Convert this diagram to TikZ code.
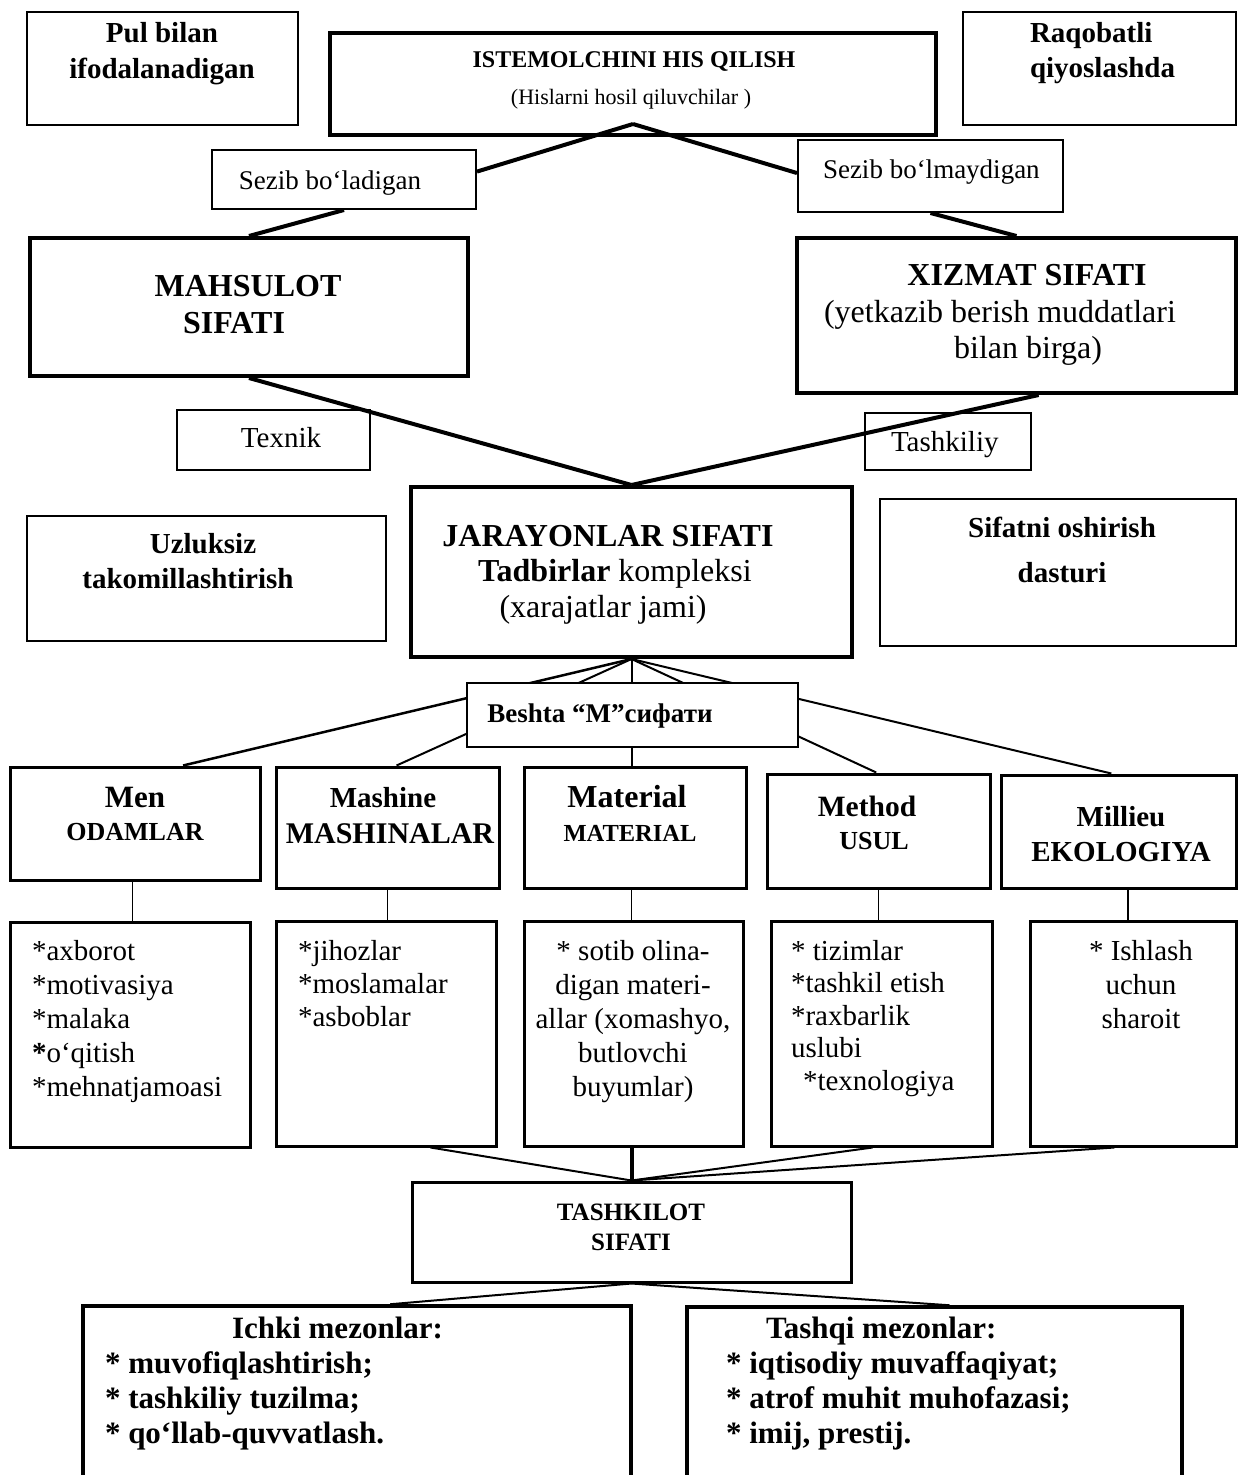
\documentclass[tikz,border=0pt]{standalone}
\usepackage{fontspec}
\setmainfont{Liberation Serif}
\usetikzlibrary{calc}
\newcommand{\fsz}[2]{\fontsize{#1}{#2}\selectfont}
\newcommand{\txtblock}[2]{\begin{tabular}[t]{@{}#1@{}}#2\end{tabular}}
\begin{document}
\begin{tikzpicture}[x=1pt,y=-1pt,
  thinbox/.style={draw, rectangle, line width=2pt, inner sep=0pt},
  thickbox/.style={draw, rectangle, line width=4pt, inner sep=0pt},
  midbox/.style={draw, rectangle, line width=3pt, inner sep=0pt},
  lbl/.style={inner sep=0pt, outer sep=0pt},
  heavy/.style={line width=4pt},
  link/.style={line width=2pt},
  stem/.style={line width=1.8pt}]
\clip (0,0) rectangle (1238,1475);
\fill[white] (0,0) rectangle (1238,1475);

% ---------- top row ----------
\node[thinbox, minimum width=271pt, minimum height=113pt] (pul) at (162.5,68.5) {};
\node[lbl, anchor=base, font=\fsz{29}{36}\bfseries] (pulT) at (162,42)
  {\txtblock{c}{Pul bilan\\ifodalanadigan}};

\node[thickbox, minimum width=606pt, minimum height=102pt] (ist) at (633,84) {};
\node[lbl, anchor=base, font=\fsz{24}{28}\bfseries] (istT) at (634,67) {ISTEMOLCHINI HIS QILISH};
\node[lbl, anchor=base, font=\fsz{22}{26}] (istS) at (631,104) {(Hislarni hosil qiluvchilar )};

\node[thinbox, minimum width=273pt, minimum height=113pt] (raq) at (1099.5,68.5) {};
\node[lbl, anchor=base west, font=\fsz{29}{35}\bfseries] (raqT) at (1030,42)
  {\txtblock{l}{Raqobatli\\qiyoslashda}};

% ---------- perceived / not perceived ----------
\node[thinbox, minimum width=264pt, minimum height=59pt] (sez1) at (344,179.5) {};
\node[lbl, anchor=base, font=\fsz{27}{32}] (sez1T) at (330,189) {Sezib bo‘ladigan};
\node[thinbox, minimum width=265pt, minimum height=72pt] (sez2) at (930.5,176) {};
\node[lbl, anchor=base west, font=\fsz{27}{32}] (sez2T) at (823,178) {Sezib bo‘lmaydigan};

% ---------- product / service ----------
\node[thickbox, minimum width=438pt, minimum height=138pt] (mah) at (249,307) {};
\node[lbl, anchor=base, font=\fsz{32}{37}\bfseries] (mahT) at (248,296) {MAHSULOT};
\node[lbl, anchor=base, font=\fsz{32}{37}\bfseries] (mahS) at (234,333) {SIFATI};

\node[thickbox, minimum width=439pt, minimum height=155pt] (xiz) at (1016.5,315.5) {};
\node[lbl, anchor=base, font=\fsz{32}{37}\bfseries] (xizT) at (1027,285) {XIZMAT SIFATI};
\node[lbl, anchor=base, font=\fsz{32}{37}] (xizS) at (1000,322) {(yetkazib berish muddatlari};
\node[lbl, anchor=base, font=\fsz{32}{37}] (xizU) at (1028,358) {bilan birga)};

\node[thinbox, minimum width=193pt, minimum height=60pt] (tex) at (273.5,440) {};
\node[lbl, anchor=base, font=\fsz{29}{34}] (texT) at (281,447) {Texnik};
\node[thinbox, minimum width=166pt, minimum height=57pt] (tsh) at (948,441.5) {};
\node[lbl, anchor=base west, font=\fsz{29}{34}] (tshT) at (891,451) {Tashkiliy};

% ---------- processes ----------
\node[thickbox, minimum width=441pt, minimum height=170pt] (jar) at (631.5,572) {};
\node[lbl, anchor=base, font=\fsz{32}{37}\bfseries] (jarT) at (608,546) {JARAYONLAR SIFATI};
\node[lbl, anchor=base, font=\fsz{32}{37}] (jarS) at (615,581) {\textbf{Tadbirlar} kompleksi};
\node[lbl, anchor=base, font=\fsz{32}{37}] (jarU) at (603,617) {(xarajatlar jami)};

\node[thinbox, minimum width=359pt, minimum height=125pt] (uzl) at (206.5,578.5) {};
\node[lbl, anchor=base, font=\fsz{29}{34}\bfseries] (uzlT) at (203,553) {Uzluksiz};
\node[lbl, anchor=base, font=\fsz{29}{34}\bfseries] (uzlS) at (188,588) {takomillashtirish};

\node[thinbox, minimum width=356pt, minimum height=147pt] (sif) at (1058,572.5) {};
\node[lbl, anchor=base, font=\fsz{29}{45}\bfseries] (sifT) at (1062,537)
  {\txtblock{c}{Sifatni oshirish\\dasturi}};

% ---------- the five M ----------
\node[midbox, minimum width=250pt, minimum height=113pt] (men) at (135,823.5) {};
\node[lbl, anchor=base, font=\fsz{31}{36}\bfseries] (menT) at (135,807) {Men};
\node[lbl, anchor=base, font=\fsz{26}{30}\bfseries] (menS) at (135,840) {ODAMLAR};

\node[midbox, minimum width=223pt, minimum height=121pt] (mas) at (387.5,827.5) {};
\node[lbl, anchor=base, font=\fsz{29}{34}\bfseries] (masT) at (383,807) {Mashine};
\node[lbl, anchor=base, font=\fsz{30}{34}\bfseries] (masS) at (390,843) {MASHINALAR};

\node[midbox, minimum width=222pt, minimum height=121pt] (mat) at (635,827.5) {};
\node[lbl, anchor=base, font=\fsz{32}{36}\bfseries] (matT) at (627,807) {Material};
\node[lbl, anchor=base, font=\fsz{24.5}{30}\bfseries] (matS) at (630,841) {MATERIAL};

\node[midbox, minimum width=223pt, minimum height=114pt] (met) at (878.5,831) {};
\node[lbl, anchor=base, font=\fsz{29.5}{34}\bfseries] (metT) at (867,816) {Method};
\node[lbl, anchor=base, font=\fsz{26}{30}\bfseries] (metS) at (874,849) {USUL};

\node[midbox, minimum width=235pt, minimum height=113pt] (mil) at (1118.5,831.5) {};
\node[lbl, anchor=base, font=\fsz{29}{34}\bfseries] (milT) at (1121,826) {Millieu};
\node[lbl, anchor=base, font=\fsz{29}{34}\bfseries] (milS) at (1121,861) {EKOLOGIYA};

% ---------- details of each M ----------
\node[midbox, minimum width=240pt, minimum height=225pt] (menL) at (130,1034.5) {};
\node[lbl, anchor=base west, font=\fsz{29}{34}] (menLT) at (32,960)
  {\txtblock{l}{*axborot\\{}*motivasiya\\{}*malaka\\{}\textbf{*}o‘qitish\\{}*mehnatjamoasi}};

\node[midbox, minimum width=220pt, minimum height=225pt] (masL) at (386,1033.5) {};
\node[lbl, anchor=base west, font=\fsz{29}{33}] (masLT) at (298,960)
  {\txtblock{l}{*jihozlar\\{}*moslamalar\\{}*asboblar}};

\node[midbox, minimum width=219pt, minimum height=225pt] (matL) at (633.5,1033.5) {};
\node[lbl, anchor=base, font=\fsz{29}{34}] (matLT) at (633,960)
  {\txtblock{c}{* sotib olina-\\digan materi-\\allar (xomashyo,\\butlovchi\\buyumlar)}};

\node[midbox, minimum width=221pt, minimum height=225pt] (metL) at (881.5,1033.5) {};
\node[lbl, anchor=base west, font=\fsz{29}{32.5}] (metLT) at (791,960)
  {\txtblock{l}{* tizimlar\\{}*tashkil etish\\{}*raxbarlik\\uslubi\\\hspace*{12pt}*texnologiya}};

\node[midbox, minimum width=206pt, minimum height=225pt] (milL) at (1133,1033.5) {};
\node[lbl, anchor=base, font=\fsz{29}{34}] (milLT) at (1141,960)
  {\txtblock{c}{* Ishlash\\uchun\\sharoit}};

% ---------- organisation ----------
\node[midbox, minimum width=439pt, minimum height=100pt] (tash) at (631.5,1232) {};
\node[lbl, anchor=base, font=\fsz{25}{30}\bfseries] (tashT) at (631,1220)
  {\txtblock{c}{TASHKILOT\\SIFATI}};

\node[draw, rectangle, line width=3.5pt, inner sep=0pt, minimum width=548pt, minimum height=194pt] (ich) at (357,1403) {};
\node[lbl, anchor=base west, font=\fsz{31}{35}\bfseries] (ichT) at (232,1338) {Ichki mezonlar:};
\node[lbl, anchor=base west, font=\fsz{31}{35}\bfseries] (ichL) at (105,1373)
  {\txtblock{l}{* muvofiqlashtirish;\\{}* tashkiliy tuzilma;\\{}* qo‘llab-quvvatlash.}};

\node[draw, rectangle, line width=3.5pt, inner sep=0pt, minimum width=495pt, minimum height=193pt] (tas) at (934.5,1403.5) {};
\node[lbl, anchor=base west, font=\fsz{31}{35}\bfseries] (tasT) at (766,1338) {Tashqi mezonlar:};
\node[lbl, anchor=base west, font=\fsz{31}{35}\bfseries] (tasL) at (726,1373)
  {\txtblock{l}{* iqtisodiy muvaffaqiyat;\\{}* atrof muhit muhofazasi;\\{}* imij, prestij.}};

% ---------- connectors ----------
\coordinate (apx) at (633,124);
\draw[heavy] (apx) -- ($(sez1.north east)!0.37!(sez1.south east)$);
\draw[heavy] (apx) -- ($(sez2.north west)!0.46!(sez2.south west)$);
\draw[heavy] (sez1.south) -- (mah.north);
\draw[heavy] (sez2.south) -- (xiz.north);
\draw[heavy] (mah.south) -- (jar.north);
\draw[heavy] ($(xiz.south west)!0.55!(xiz.south east)$) -- (jar.north);

% fan from the processes box to the five M (the label box covers the middle)
\draw[line width=2.5pt] (jar.south) -- ($(men.north west)!0.69!(men.north east)$);
\draw[link] (jar.south) -- ($(mas.north west)!0.54!(mas.north east)$);
\draw[link] (jar.south) -- (jar.south |- mat.north);
\draw[link] (jar.south) -- ($(met.north west)!0.49!(met.north east)$);
\draw[link] (jar.south) -- ($(mil.north west)!0.47!(mil.north east)$);
\node[draw, rectangle, line width=2.5pt, inner sep=0pt, fill=white, minimum width=331pt, minimum height=64pt] (bes) at (632.5,715) {};
\node[lbl, anchor=base, font=\fsz{27}{32}\bfseries] (besT) at (600,722) {Beshta “M”сифати};

% stems to the detail boxes
\coordinate (menStem) at ($(men.south west)!0.49!(men.south east)$);
\coordinate (milStem) at ($(mil.south west)!0.54!(mil.south east)$);
\draw[stem] (menStem) -- (menStem |- menL.north);
\draw[stem] (mas.south) -- (mas.south |- masL.north);
\draw[stem] (jar.south |- mat.south) -- (jar.south |- matL.north);
\draw[stem] (met.south) -- (met.south |- metL.north);
\draw[stem] (milStem) -- (milStem |- milL.north);

% converging into the organisation box
\draw[link] ($(masL.south west)!0.70!(masL.south east)$) -- (tash.north);
\draw[heavy] (tash.north |- matL.south) -- (tash.north);
\draw[link] ($(metL.south west)!0.46!(metL.south east)$) -- (tash.north);
\draw[link] ($(milL.south west)!0.41!(milL.south east)$) -- (tash.north);

\draw[link] (tash.south) -- ($(ich.north west)!0.56!(ich.north east)$);
\draw[link] (tash.south) -- ($(tas.north west)!0.53!(tas.north east)$);
\end{tikzpicture}
\end{document}
